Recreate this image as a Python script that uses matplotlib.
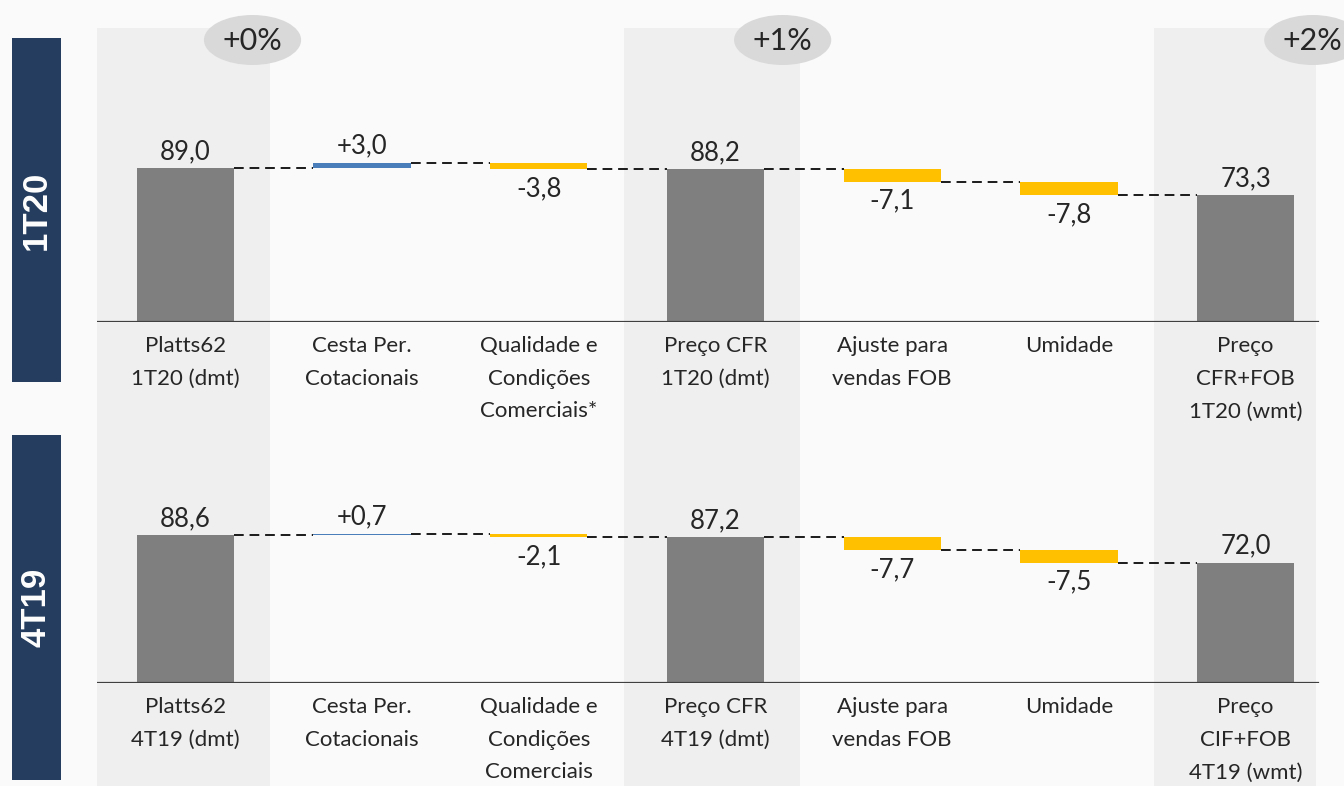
import matplotlib.pyplot as plt
from matplotlib.patches import Ellipse

plt.rcParams['font.family'] = ['Lato', 'DejaVu Sans']

W, H = 1344, 786

# data
steps = ['total', 'delta', 'delta', 'total', 'delta', 'delta', 'total']
vals_1t20 = [89.0, 3.0, -3.8, 88.2, -7.1, -7.8, 73.3]
vals_4t19 = [88.6, 0.7, -2.1, 87.2, -7.7, -7.5, 72.0]
cats_1t20 = ['Platts62\n1T20 (dmt)', 'Cesta Per.\nCotacionais',
             'Qualidade e\nCondições\nComerciais*', 'Preço CFR\n1T20 (dmt)',
             'Ajuste para\nvendas FOB', 'Umidade', 'Preço\nCFR+FOB\n1T20 (wmt)']
cats_4t19 = ['Platts62\n4T19 (dmt)', 'Cesta Per.\nCotacionais',
             'Qualidade e\nCondições\nComerciais', 'Preço CFR\n4T19 (dmt)',
             'Ajuste para\nvendas FOB', 'Umidade', 'Preço\nCIF+FOB\n4T19 (wmt)']
pct_pos = [0, 3, 6]
pct_labels = ['+0%', '+1%', '+2%']

GREY = '#7f7f7f'
BLUE = '#4a7ebb'
GOLD = '#ffc000'
NAVY = '#253d5e'
TXT = '#262626'
BW = 0.55


def px(x0, y0, x1, y1):
    return [x0 / W, 1 - y1 / H, (x1 - x0) / W, (y1 - y0) / H]


def fmt(v, sign=False):
    s = f"{v:+.1f}" if sign else f"{v:.1f}"
    return s.replace('.', ',')


fig = plt.figure(figsize=(W / 100, H / 100), dpi=100)
fig.patch.set_facecolor('#fafafa')

# background columns + percentage badges
bg = fig.add_axes([97 / W, 0, 1237 / W, 1], zorder=0)
bg.set_xlim(-0.5, 6.5)
bg.set_ylim(H, 0)
bg.axis('off')
for i, lab in zip(pct_pos, pct_labels):
    bg.axvspan(i - 0.52, min(i + 0.48, 6.4), ymin=0, ymax=1 - 28 / H,
               color='#efefef', lw=0)
    bg.add_patch(Ellipse((i + 0.38, 40), 0.55, 50, color='#d9d9d9',
                         lw=0, clip_on=False))
    bg.text(i + 0.38, 41, lab, ha='center', va='center', fontsize=22,
            color=TXT)


def waterfall(ax, vals, cats, ytop):
    ax.set_xlim(-0.5, 6.5)
    ax.set_ylim(0, ytop)
    ax.axis('off')
    ax.patch.set_alpha(0)
    level = 0
    levels = []
    for i, (kind, v) in enumerate(zip(steps, vals)):
        if kind == 'total':
            bottom, color = 0, GREY
            level = v
            top = v
        else:
            bottom = level
            color = BLUE if v > 0 else GOLD
            level = level + v
            top = max(bottom, level)
        ax.bar(i, v, BW, bottom=bottom, color=color, lw=0, zorder=3)
        levels.append(level)
        if kind == 'total':
            ax.annotate(fmt(v), (i, top), xytext=(0, 3),
                        textcoords='offset points', ha='center',
                        va='bottom', fontsize=18.5, color=TXT)
        elif v > 0:
            ax.annotate(fmt(v, True), (i, top), xytext=(0, 3),
                        textcoords='offset points', ha='center',
                        va='bottom', fontsize=18.5, color=TXT)
        else:
            ax.annotate(fmt(v), (i, min(bottom, level)), xytext=(0, -5),
                        textcoords='offset points', ha='center', va='top',
                        fontsize=18.5, color=TXT)
        ax.annotate(cats[i], (i, 0), xytext=(0, -10),
                    textcoords='offset points', ha='center', va='top',
                    fontsize=16, color=TXT, linespacing=1.8,
                    annotation_clip=False)
    for i in range(len(vals) - 1):
        ax.plot([i + BW / 2, i + 1 - BW / 2], [levels[i], levels[i]],
                color='#1a1a1a', lw=1.4, dashes=(5, 3), zorder=2)
    ax.axhline(0, xmin=0, xmax=(1318 - 97) / (1334 - 97), color='#404040',
               lw=1.6, zorder=4)


ax1 = fig.add_axes(px(97, 28, 1334, 322))
waterfall(ax1, vals_1t20, cats_1t20, 170)
ax2 = fig.add_axes(px(97, 389, 1334, 683))
waterfall(ax2, vals_4t19, cats_4t19, 176)

# period boxes on the left
for rect, lab in [(px(12, 38, 61, 382), '1T20'), (px(12, 435, 61, 780), '4T19')]:
    bx = fig.add_axes(rect)
    bx.set_facecolor(NAVY)
    bx.set_xticks([])
    bx.set_yticks([])
    for s in bx.spines.values():
        s.set_visible(False)
    bx.text(0.5, 0.5, lab, rotation=90, ha='center', va='center',
            fontsize=25, fontweight='bold', color='white',
            family='Liberation Sans', transform=bx.transAxes)

fig.savefig('out.png', dpi=100, facecolor=fig.get_facecolor())
